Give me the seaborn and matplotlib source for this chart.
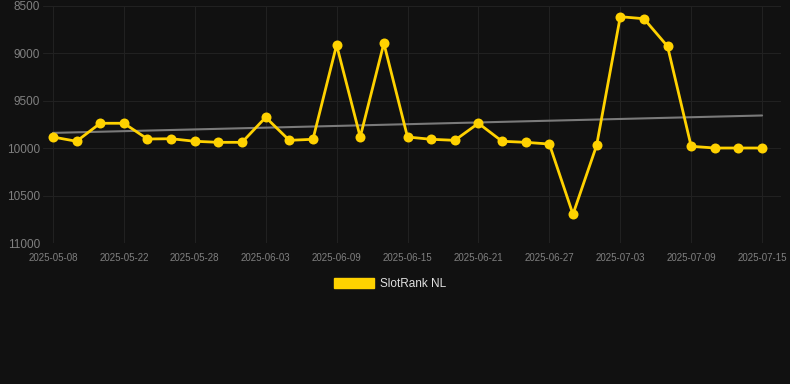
import matplotlib
matplotlib.use("Agg")
import matplotlib.pyplot as plt
import seaborn as sns
import numpy as np
import pandas as pd
from matplotlib.patches import Patch

dates = ["2025-05-08", "2025-05-13", "2025-05-18", "2025-05-22", "2025-05-24", "2025-05-26",
         "2025-05-28", "2025-05-30", "2025-06-01", "2025-06-03", "2025-06-05", "2025-06-07",
         "2025-06-09", "2025-06-11", "2025-06-13", "2025-06-15", "2025-06-17", "2025-06-19",
         "2025-06-21", "2025-06-23", "2025-06-25", "2025-06-27", "2025-06-29", "2025-07-01",
         "2025-07-03", "2025-07-05", "2025-07-07", "2025-07-09", "2025-07-11", "2025-07-13",
         "2025-07-15"]
rank = [9882, 9927, 9737, 9737, 9903, 9900, 9927, 9938, 9938, 9674, 9917, 9906,
        8911, 9882, 8893, 9882, 9906, 9917, 9737, 9927, 9938, 9956, 10697, 9970,
        8613, 8634, 8925, 9980, 9998, 9998, 9998]
yticks = [8500, 9000, 9500, 10000, 10500, 11000]
series_name = "SlotRank NL"

BG = "#111111"
GOLD = "#FFD200"

sns.set_theme(style="dark")
plt.rcParams["font.family"] = ["Liberation Sans", "DejaVu Sans"]

df = pd.DataFrame({"idx": np.arange(len(dates)), "date": dates, "rank": rank})

fig = plt.figure(figsize=(7.9, 3.84), dpi=100, facecolor=BG)
ax = fig.add_axes([43 / 790, 1 - 243 / 384, (781 - 43) / 790, (243 - 6) / 384])
ax.set_facecolor(BG)

# trend line (linear fit)
coef = np.polyfit(df["idx"], df["rank"], 1)
df["trend"] = np.polyval(coef, df["idx"])
sns.lineplot(data=df, x="idx", y="trend", ax=ax, color="#7a7a7a", linewidth=1.5, zorder=2)

sns.lineplot(data=df, x="idx", y="rank", ax=ax, color=GOLD, linewidth=2.0,
             marker="o", markersize=7.2, markeredgewidth=0, zorder=3)

ax.set_ylim(11000, 8500)
ax.set_yticks(yticks)
ax.set_yticklabels([str(v) for v in yticks])
ax.set_xlim(-0.42, 30.8)
tick_idx = list(range(0, len(dates), 3))
ax.set_xticks(tick_idx)
ax.set_xticklabels([dates[i] for i in tick_idx])

ax.grid(True, color="#212121", linewidth=0.8)
ax.tick_params(axis="y", colors="#808080", labelsize=8.5, length=0, pad=2)
ax.tick_params(axis="x", colors="#252525", labelcolor="#808080", labelsize=7, length=4, pad=3, width=0.8)
for s in ax.spines.values():
    s.set_visible(False)
ax.set_xlabel("")
ax.set_ylabel("")

handle = Patch(facecolor=GOLD, edgecolor=GOLD)
leg = fig.legend([handle], [series_name], loc="center",
                 bbox_to_anchor=(390 / 790, 1 - 284 / 384), frameon=False,
                 fontsize=8.5, handlelength=3.4, handleheight=0.93, handletextpad=0.5)
for t in leg.get_texts():
    t.set_color("#e0e0e0")

fig.savefig("out.png", dpi=100, facecolor=BG)
